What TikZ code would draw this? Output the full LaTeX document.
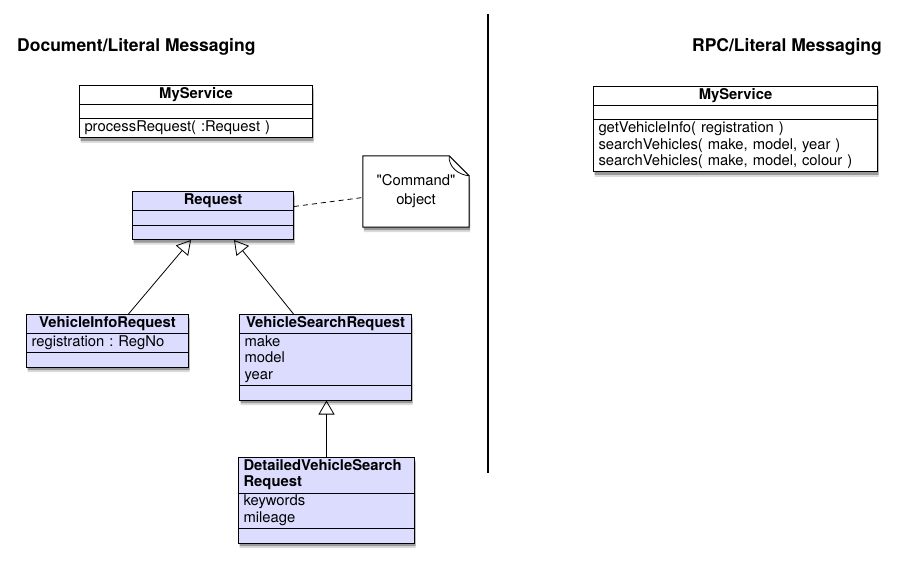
\documentclass[tikz,border=0pt]{standalone}
\usepackage{fontspec}
\setmainfont{TeX Gyre Heros}[Ligatures=TeXOff]
\usetikzlibrary{shapes.multipart,arrows.meta,shadows}

\definecolor{classfill}{RGB}{220,220,255}
\newcommand{\umlfont}{\fontsize{14.8}{16.5}\selectfont\frenchspacing}
\newcommand{\classname}[1]{{\centering\bfseries\strut #1\strut\par}}
\newcommand{\umlgap}{\rule{0pt}{12pt}}

\begin{document}
\begin{tikzpicture}[x=1pt, y=-1pt,
    uml shadow/.style={drop shadow={shadow xshift=1pt, shadow yshift=-5pt, fill=black, opacity=0.14},
      drop shadow={shadow xshift=1pt, shadow yshift=-3pt, fill=black, opacity=0.3}},
    class node/.style={rectangle split, rectangle split parts=3, draw, line width=1pt, fill=classfill,
      inner xsep=5pt, inner ysep=0.75pt, align=left, anchor=north west, uml shadow},
    service node/.style={class node, fill=white},
    note node/.style={minimum width=106pt, minimum height=71pt, inner sep=0pt},
    note text/.style={align=center, font=\fontsize{14.8}{19}\selectfont},
    title node/.style={font=\fontsize{17.5}{20}\selectfont\bfseries, inner sep=0pt},
    gen edge/.style={line width=0.8pt, -{Triangle[open, length=14pt, width=16pt]}},
    note edge/.style={draw, line width=0.8pt, dash pattern=on 5pt off 4pt}]
  \tikzstyle{every node}=[font=\umlfont]
  \useasboundingbox (0,0) rectangle (904,572);

  % headings
  \node[title node, anchor=base west] (doctitle) at (17,52) {Document/Literal Messaging};
  \node[title node, anchor=base east] (rpctitle) at (882,52) {RPC/Literal Messaging};

  % document/literal side
  \node[service node, text width=223pt] (docsvc) at (79,85)
    {\classname{MyService}\nodepart{second}\umlgap\nodepart{third}\strut processRequest( :Request )\strut};
  \node[class node, text width=151pt] (req) at (132,191)
    {\classname{Request}\nodepart{second}\umlgap\nodepart{third}\umlgap};
  \node[class node, text width=152pt] (vir) at (26,314)
    {\classname{VehicleInfoRequest}\nodepart{second}\strut registration : RegNo\strut\nodepart{third}\umlgap};
  \node[class node, text width=162pt] (vsr) at (239,314)
    {\classname{VehicleSearchRequest}\nodepart{second}\strut make\\model\\year\strut\nodepart{third}\umlgap};
  \node[class node, text width=166pt] (dvsr) at (238,457)
    {\bfseries\strut DetailedVehicleSearch\\Request\strut\nodepart{second}\strut keywords\\mileage\strut\nodepart{third}\umlgap};

  % note
  \node[note node] (cmdnote) at (416,191.5) {};
  \draw[line width=1pt, fill=white, uml shadow]
    (cmdnote.north west) -- ([xshift=-20pt]cmdnote.north east) -- ([yshift=-20pt]cmdnote.north east)
    -- (cmdnote.south east) -- (cmdnote.south west) -- cycle;
  \draw[line width=0.8pt] ([xshift=-20pt]cmdnote.north east) to[out=-95, in=175] ([yshift=-20pt]cmdnote.north east);
  \node[note text] (cmdtext) at (cmdnote) {"Command"\\object};

  \path[gen edge]
    ([xshift=21pt]vir.north) edge ([xshift=-22pt]req.south)
    ([xshift=-32pt]vsr.north) edge ([xshift=21pt]req.south)
    (dvsr.north) edge (dvsr.north |- vsr.south);
  \path[note edge] ([yshift=9pt]req.east) -- ([yshift=-6pt]cmdnote.west);

  % divider
  \coordinate (divtop) at (488,14);
  \coordinate (divbot) at (488,473);
  \draw[line width=1.3pt] (divtop) -- (divbot);

  % rpc/literal side
  \node[service node, text width=274pt] (rpcsvc) at (593,86)
    {\classname{MyService}\nodepart{second}\umlgap\nodepart{third}\strut getVehicleInfo( registration )\\searchVehicles( make, model, year )\\searchVehicles( make, model, colour )\strut};
\end{tikzpicture}
\end{document}
